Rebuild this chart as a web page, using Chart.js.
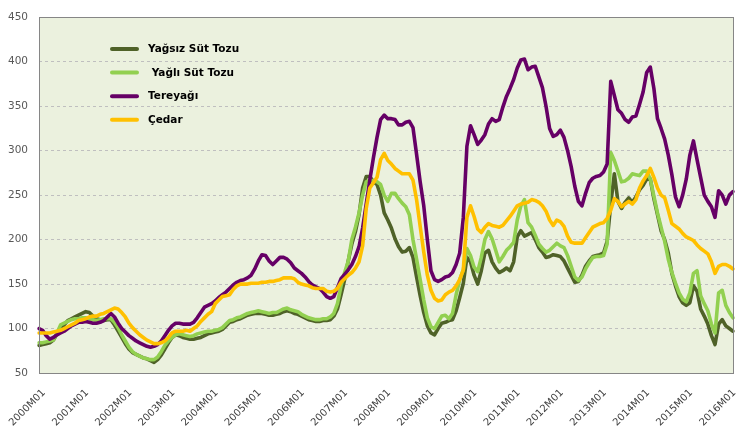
<!DOCTYPE html>
<html lang="tr">
<head>
<meta charset="utf-8">
<script src="https://cdn.jsdelivr.net/npm/chart.js@4.4.1/dist/chart.umd.min.js"></script>
<style>
    html, body { margin: 0; padding: 0; background: #ffffff; }
    #wrap { width: 751px; height: 439px; position: relative; }
</style>
</head>
<body>
<div id="wrap"><canvas id="dairyChart" width="751" height="439"></canvas></div>
<script>
// Categories: monthly, 2000M01 .. 2016M02
const N_MONTHS = 194;
const monthLabels = [];
for (let y = 2000; y <= 2016; y++) {
    for (let m = 1; m <= 12; m++) {
        if (monthLabels.length < N_MONTHS) monthLabels.push(`${y}M${String(m).padStart(2, '0')}`);
    }
}

// Y axis ticks
const yTicks = [50, 100, 150, 200, 250, 300, 350, 400, 450];

// Series (one row per year)
const yagsizSutTozu = [
    81, 82, 83, 84, 87, 94, 98, 104, 109, 111, 113, 115,
    117, 119, 118, 114, 111, 110, 109, 110, 110, 104, 97, 90,
    83, 77, 73, 71, 69, 67, 66, 64, 62, 65, 70, 77,
    84, 90, 93, 92, 90, 89, 88, 88, 89, 90, 92, 94,
    95, 96, 97, 99, 103, 107, 108, 110, 111, 113, 115, 116,
    117, 117, 117, 116, 115, 115, 116, 117, 119, 120, 119, 117,
    116, 114, 112, 110, 109, 108, 108, 109, 109, 110, 114, 122,
    138, 155, 176, 195, 209, 228, 258, 271, 271, 265, 262, 250,
    230, 222, 213, 201, 192, 186, 187, 191, 180, 158, 137, 118,
    103, 95, 93, 100, 106, 107, 109, 110, 120, 135, 151, 180,
    175, 160, 150, 165, 185, 188, 175, 168, 163, 165, 168, 165,
    175, 203, 210, 204, 206, 208, 200, 191, 186, 180, 181, 183,
    182, 181, 176, 168, 160, 152, 153, 160, 170, 176, 181, 182,
    183, 185, 198, 240, 274, 243, 235, 242, 247, 242, 248, 256,
    261, 268, 268, 246, 228, 210, 200, 185, 162, 148, 136, 129,
    126, 129, 148, 142, 122, 114, 105, 92, 82, 105, 110, 103,
    100, 97
];

const yagliSutTozu = [
    84, 84, 85, 86, 87, 95, 104, 106, 108, 110, 111, 111,
    112, 112, 111, 110, 109, 110, 111, 111, 111, 107, 101, 93,
    86, 79, 74, 71, 69, 67, 66, 65, 65, 68, 74, 81,
    86, 90, 93, 94, 93, 92, 91, 92, 94, 95, 96, 97,
    97, 98, 99, 101, 105, 109, 110, 112, 113, 115, 117, 118,
    119, 120, 119, 118, 117, 118, 118, 120, 122, 123, 121, 120,
    119, 116, 114, 112, 111, 110, 110, 111, 111, 113, 117, 128,
    148, 163, 176, 200, 214, 230, 250, 265, 267, 266, 265, 262,
    250, 243, 252, 252, 246, 241, 237, 228, 200, 178, 155, 132,
    112, 102, 100, 107, 114, 115, 111, 117, 138, 155, 166, 190,
    182, 169, 164, 180, 200, 209, 201, 188, 175, 181, 188, 192,
    197, 222, 238, 245, 219, 214, 205, 195, 190, 186, 188, 192,
    196, 193, 191, 182, 170, 158, 154, 158, 167, 174, 180, 181,
    181, 182, 195, 298, 289, 277, 265, 266, 269, 274, 273, 272,
    277, 277, 268, 249, 230, 214, 198, 178, 163, 151, 140, 133,
    130, 140, 162, 165, 137, 128, 120, 105, 95, 140, 143, 126,
    118, 112
];

const tereyagi = [
    100, 98, 92, 88, 90, 93, 95, 97, 100, 103, 105, 107,
    107, 108, 107, 106, 106, 107, 109, 113, 117, 113, 106, 100,
    96, 92, 89, 86, 84, 82, 80, 79, 80, 82, 86, 92,
    98, 103, 106, 106, 105, 105, 105, 107, 112, 118, 124, 126,
    128, 131, 135, 138, 141, 145, 149, 152, 154, 155, 157, 160,
    167, 176, 183, 182, 176, 172, 176, 180, 180, 178, 174, 168,
    165, 162, 158, 153, 149, 147, 145, 141, 136, 134, 136, 146,
    156, 161, 166, 172, 181, 192, 213, 240, 267, 292, 315, 335,
    340, 336, 336, 335, 329, 329, 332, 333, 326, 296, 265, 238,
    200, 165, 155, 153, 155, 158, 159, 163, 172, 185, 225, 305,
    328, 318, 307, 312, 318, 330, 336, 333, 335, 349, 361, 370,
    380, 393, 402, 403, 391, 394, 395, 383, 371, 350, 325, 316,
    318, 323, 315, 300, 282, 260, 243, 238, 252, 264, 269, 271,
    272, 276, 285, 378, 362, 346, 342, 335, 332, 338, 339, 352,
    366, 388, 394, 370, 336, 325, 313, 295, 273, 248, 237, 250,
    268, 295, 311, 290, 270, 250, 243, 237, 225, 255, 250, 240,
    250, 254
];

const cedar = [
    95, 95, 95, 95, 96, 97, 98, 100, 102, 104, 106, 109,
    110, 111, 113, 114, 114, 116, 117, 119, 121, 123, 122, 118,
    113, 106, 101, 97, 93, 90, 87, 85, 83, 83, 84, 86,
    90, 95, 97, 97, 97, 98, 97, 100, 103, 108, 112, 116,
    119, 128, 132, 136, 137, 138, 144, 148, 150, 150, 150, 151,
    151, 151, 152, 152, 153, 153, 154, 155, 157, 157, 157, 156,
    152, 150, 149, 148, 146, 145, 145, 145, 142, 141, 142, 145,
    152, 156, 160, 163, 168, 175, 193, 235, 258, 264, 270, 290,
    297, 289, 285, 280, 277, 274, 274, 274, 267, 245, 215, 186,
    160, 143, 134, 131, 132, 138, 141, 143, 148, 155, 166, 225,
    238, 226, 212, 208, 214, 218, 216, 215, 214, 216, 221, 226,
    232, 238, 240, 241, 242, 245, 244, 242, 238, 232, 222, 216,
    222, 220, 215, 204, 197, 196, 196, 196, 202, 208, 214, 216,
    218, 219, 224, 233, 246, 243, 237, 240, 243, 240, 245, 258,
    266, 272, 280, 270, 258, 250, 247, 233, 218, 215, 212, 207,
    203, 201, 199, 194, 190, 187, 184, 175, 162, 170, 172, 172,
    170, 167
];

// Plot area background + frame
const plotFrame = {
    id: 'plotFrame',
    beforeDraw(chart) {
        const { ctx, chartArea: { left, top, width, height } } = chart;
        ctx.save();
        ctx.fillStyle = '#EBF1DE';
        ctx.fillRect(left, top, width, height);
        ctx.restore();
    },
    afterDraw(chart) {
        const { ctx, chartArea: { left, top, width, height } } = chart;
        ctx.save();
        ctx.strokeStyle = '#868686';
        ctx.lineWidth = 1;
        ctx.strokeRect(Math.round(left) + 0.5, Math.round(top) + 0.5, Math.round(width), Math.round(height));
        ctx.restore();
    }
};

// Legend drawn inside the plot area, top-left
const innerLegend = {
    id: 'innerLegend',
    afterDatasetsDraw(chart) {
        const ctx = chart.ctx;
        ctx.save();
        ctx.font = 'bold 10.5px "DejaVu Sans", Verdana, sans-serif';
        ctx.textBaseline = 'middle';
        ctx.textAlign = 'left';
        chart.data.datasets.forEach((ds, i) => {
            const y = 49 + i * 23.6;
            ctx.strokeStyle = ds.borderColor;
            ctx.lineWidth = 4;
            ctx.lineCap = 'round';
            ctx.beginPath();
            ctx.moveTo(112, y);
            ctx.lineTo(137, y);
            ctx.stroke();
            ctx.fillStyle = '#000000';
            ctx.fillText(ds.label, 148, y + 0.5);
        });
        ctx.restore();
    }
};

function makeLine(label, data, color, order) {
    return {
        label: label,
        data: data,
        borderColor: color,
        backgroundColor: color,
        borderWidth: 3.6,
        pointRadius: 0,
        pointHoverRadius: 0,
        tension: 0,
        borderJoinStyle: 'round',
        borderCapStyle: 'round',
        fill: false,
        order: order
    };
}

const ctx = document.getElementById('dairyChart').getContext('2d');
new Chart(ctx, {
    type: 'line',
    data: {
        labels: monthLabels,
        datasets: [
            makeLine('Yağsız Süt Tozu', yagsizSutTozu, '#4F6228', 4),
            makeLine(' Yağlı Süt Tozu', yagliSutTozu, '#92D050', 3),
            makeLine('Tereyağı', tereyagi, '#660066', 2),
            makeLine('Çedar', cedar, '#FFC000', 1)
        ]
    },
    options: {
        responsive: false,
        animation: false,
        layout: { padding: { top: 8, right: 18, left: 0, bottom: 0 } },
        plugins: {
            legend: { display: false },
            tooltip: { enabled: false }
        },
        scales: {
            x: {
                grid: { display: false, drawTicks: false },
                border: { display: false },
                ticks: {
                    autoSkip: false,
                    minRotation: 45,
                    maxRotation: 45,
                    padding: 14,
                    labelOffset: 5,
                    color: '#404040',
                    font: { family: '"DejaVu Sans", Verdana, sans-serif', size: 10 },
                    callback: function (val, index) {
                        return index % 12 === 0 ? this.getLabelForValue(val) : null;
                    }
                },
                afterFit: function (scale) {
                    scale.height = 66;
                    // keep the rotated labels from pushing the plot area inwards
                    scale.paddingLeft = 0;
                    scale.paddingRight = 0;
                }
            },
            y: {
                min: 50,
                max: 450,
                afterBuildTicks: function (scale) {
                    scale.ticks = yTicks.map(v => ({ value: v }));
                },
                grid: { color: '#BFBFBF', lineWidth: 1, drawTicks: false },
                border: { display: false, dash: [3, 3] },
                ticks: {
                    padding: 11,
                    color: '#595959',
                    font: { family: '"DejaVu Sans", Verdana, sans-serif', size: 10.5 }
                },
                afterFit: function (scale) { scale.width = 39; }
            }
        }
    },
    plugins: [plotFrame, innerLegend]
});
</script>
</body>
</html>
